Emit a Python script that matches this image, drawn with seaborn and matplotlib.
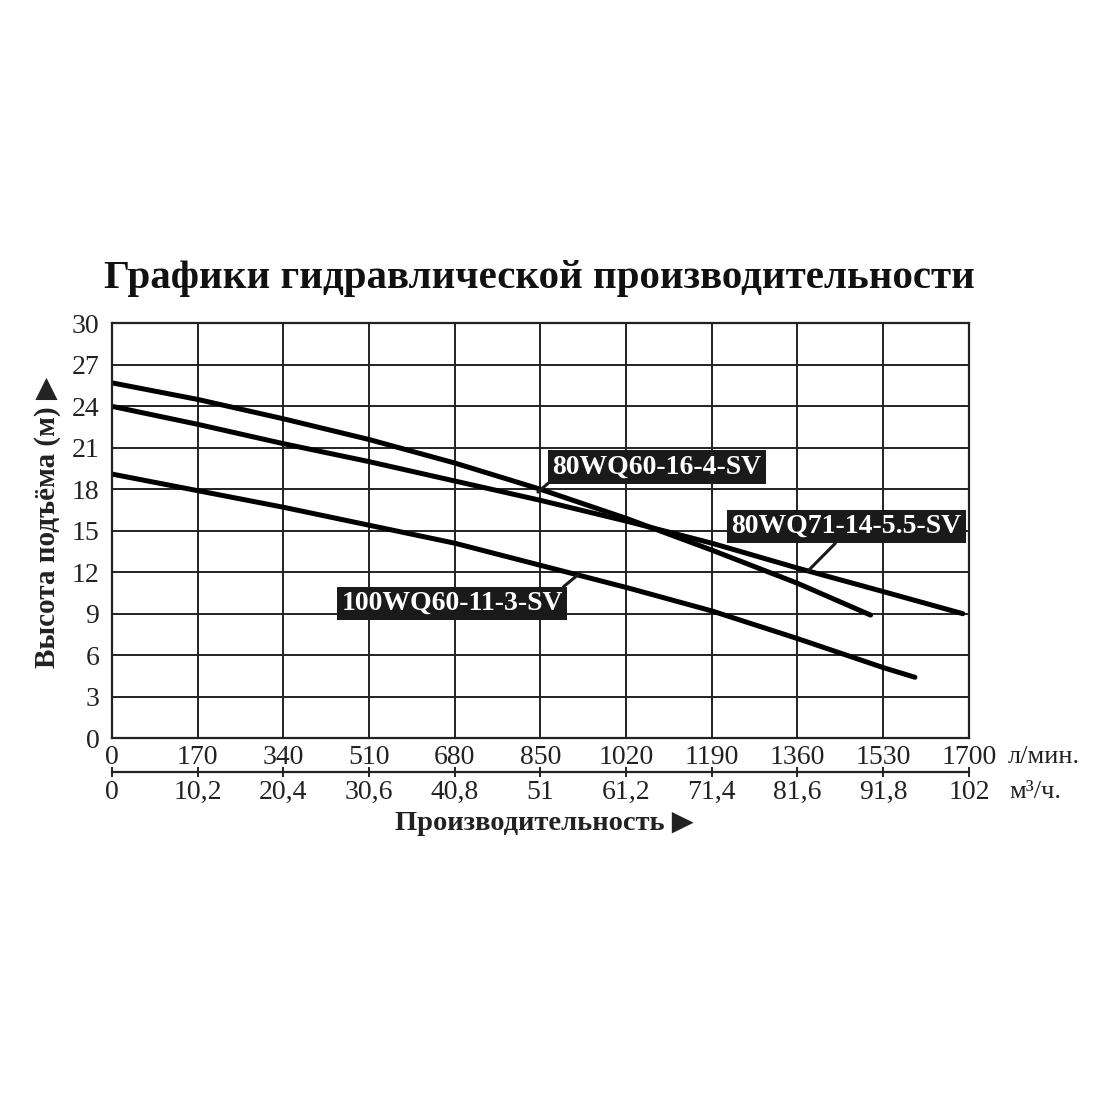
import matplotlib
matplotlib.use("Agg")
import matplotlib.pyplot as plt
import seaborn as sns
import pandas as pd

# pump curves (flow in l/min, head in m)
flow_a = [0, 170, 340, 510, 680, 850, 1020, 1190, 1360, 1505]
head_a = [25.7, 24.5, 23.1, 21.6, 19.9, 18.0, 15.9, 13.6, 11.2, 8.9]

flow_b = [0, 170, 340, 510, 680, 850, 1020, 1190, 1360, 1530, 1688]
head_b = [24.0, 22.7, 21.3, 20.0, 18.6, 17.2, 15.7, 14.1, 12.3, 10.6, 9.0]

flow_c = [0, 170, 340, 510, 680, 850, 1020, 1190, 1360, 1530, 1593]
head_c = [19.1, 17.9, 16.7, 15.4, 14.1, 12.5, 10.9, 9.2, 7.2, 5.1, 4.4]

names = ["80WQ60-16-4-SV", "80WQ71-14-5.5-SV", "100WQ60-11-3-SV"]

x_ticks = [0, 170, 340, 510, 680, 850, 1020, 1190, 1360, 1530, 1700]
x_ticks_m3 = ["0", "10,2", "20,4", "30,6", "40,8", "51", "61,2", "71,4", "81,6", "91,8", "102"]
y_ticks = [0, 3, 6, 9, 12, 15, 18, 21, 24, 27, 30]

frames = []
for name, fl, hd in zip(names, [flow_a, flow_b, flow_c], [head_a, head_b, head_c]):
    frames.append(pd.DataFrame({"flow": fl, "head": hd, "pump": name}))
df = pd.concat(frames, ignore_index=True)

sns.set_style("white")
plt.rcParams['font.family'] = ['Liberation Serif', 'DejaVu Serif']

fig = plt.figure(figsize=(11, 11), dpi=100)
ax = fig.add_axes([0.1018, 0.329, 0.779, 0.377])

sns.lineplot(data=df, x="flow", y="head", units="pump", estimator=None,
             color="black", linewidth=3.6, ax=ax, sort=False)

ax.set_xlim(0, 1700)
ax.set_ylim(0, 30)
ax.set_xticks(x_ticks)
ax.set_yticks(y_ticks)
ax.set_xticklabels([str(t) for t in x_ticks], fontsize=20)
ax.set_yticklabels([str(t) for t in y_ticks], fontsize=20)
ax.tick_params(axis="both", length=0, colors="#222222")
ax.tick_params(axis="x", pad=5)
ax.tick_params(axis="y", pad=9)
ax.grid(True, color="#222222", linewidth=1.4)
for sp in ax.spines.values():
    sp.set_color("#222222")
    sp.set_linewidth(1.6)
ax.set_xlabel("")
ax.set_ylabel("")

# second scale in m3/h
sec = ax.secondary_xaxis(-0.082)
sec.set_xticks(x_ticks)
sec.set_xticklabels(x_ticks_m3, fontsize=20)
sec.tick_params(axis="x", direction="inout", length=7, width=1.4, colors="#222222", pad=2)
sec.spines["bottom"].set_linewidth(1.6)
sec.spines["bottom"].set_color("#222222")

ax.text(1.045, -0.046, "л/мин.", transform=ax.transAxes, fontsize=19,
        ha="left", va="center", color="#222222")
ax.text(1.047, -0.13, "м³/ч.", transform=ax.transAxes, fontsize=19,
        ha="left", va="center", color="#222222")

# curve labels
box = dict(boxstyle="square,pad=0.15", facecolor="#1a1a1a", edgecolor="none")
arrow = dict(arrowstyle="-", color="#1a1a1a", linewidth=2.2, shrinkA=0, shrinkB=0)
ax.annotate(names[0], xy=(845, 17.8), xytext=(1081, 19.6), fontsize=20,
            fontweight="bold", color="white", ha="center", va="center",
            bbox=box, arrowprops=dict(arrow, relpos=(0, 0)))
ax.annotate(names[1], xy=(1381, 12.1), xytext=(1457, 15.3), fontsize=20,
            fontweight="bold", color="white", ha="center", va="center",
            bbox=box, arrowprops=dict(arrow, relpos=(0.47, 0)))
ax.annotate(names[2], xy=(924, 11.8), xytext=(675, 9.75), fontsize=20,
            fontweight="bold", color="white", ha="center", va="center",
            bbox=box, arrowprops=dict(arrow, relpos=(0.98, 1)))

fig.text(0.49, 0.747, "Графики гидравлической производительности", fontsize=29.5,
         fontweight="bold", ha="center", va="center", color="#111111")
fig.text(0.495, 0.251, "Производительность ▶", fontsize=20.5, fontweight="bold",
         ha="center", va="center", color="#222222")
fig.text(0.043, 0.525, "Высота подъёма (м) ▶", fontsize=21, fontweight="bold",
         rotation=90, ha="center", va="center", color="#222222")

fig.savefig("out.png", dpi=100, facecolor="white")
